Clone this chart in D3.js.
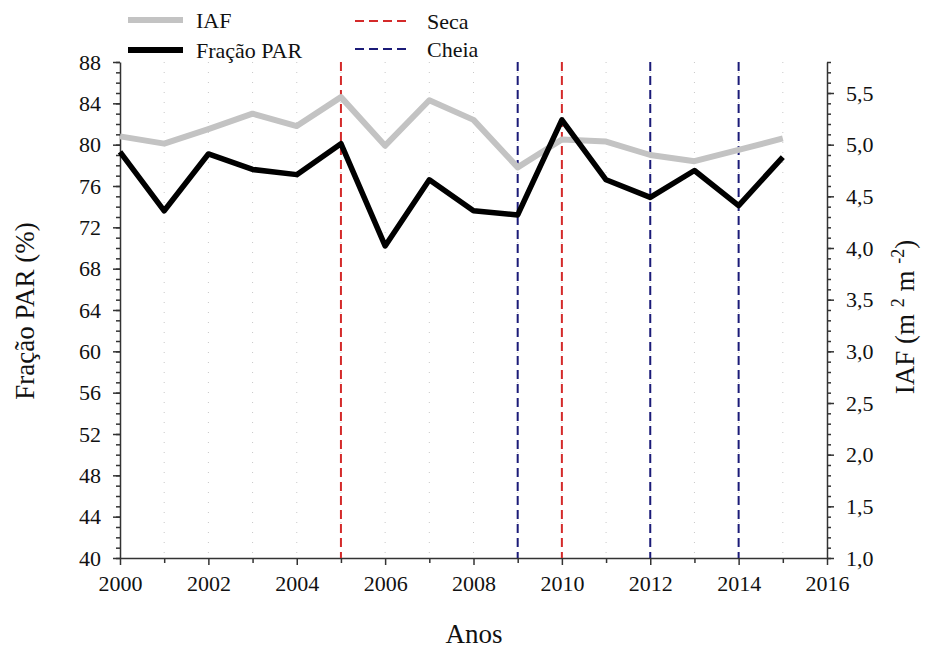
<!DOCTYPE html>
<html>
<head>
<meta charset="utf-8">
<script src="https://cdn.jsdelivr.net/npm/d3@7"></script>
<style>
body { margin: 0; background: #fff; }
svg text { font-family: "Liberation Serif", "Times New Roman", "DejaVu Serif", serif; fill: #111; }
.axis path, .axis line { stroke: #333; stroke-width: 1.5; }
</style>
</head>
<body>
<svg id="chart"></svg>
<script>
const width = 927;
const height = 648;

// dados
const anos = [2000,2001,2002,2003,2004,2005,2006,2007,2008,2009,2010,2011,2012,2013,2014,2015];
const fracaoPAR = [79.3,73.6,79.1,77.6,77.1,80.1,70.2,76.6,73.6,73.2,82.4,76.6,74.9,77.5,74.1,78.8];
const iaf = [5.08,5.01,5.15,5.30,5.18,5.46,4.99,5.43,5.24,4.78,5.05,5.03,4.90,4.84,4.95,5.06];
const anosSeca = [2005,2010];
const anosCheia = [2009,2012,2014];
const ticksPAR = [40,44,48,52,56,60,64,68,72,76,80,84,88];
const ticksIAF = [1.0,1.5,2.0,2.5,3.0,3.5,4.0,4.5,5.0,5.5];
const ticksAnos = [2000,2002,2004,2006,2008,2010,2012,2014,2016];

const mLeft = 120, mRight = 827, mTop = 62, mBottom = 558;

var xScale = d3.scaleLinear().domain([2000,2016]).range([mLeft,mRight]);
var yScale = d3.scaleLinear().domain([40,88]).range([mBottom,mTop]);
var y2Scale = d3.scaleLinear().domain([1.0,5.8]).range([mBottom,mTop]);

var svg = d3.select("#chart").attr("width",width).attr("height",height);

// grade pontilhada vertical
svg.append("g")
  .selectAll("line")
  .data(d3.range(2001,2016))
  .enter()
  .append("line")
  .attr("x1",d=>xScale(d)).attr("x2",d=>xScale(d))
  .attr("y1",mTop).attr("y2",mBottom)
  .attr("stroke","#c8c8c8")
  .attr("stroke-width",1)
  .attr("stroke-dasharray","1,9");

// minor ticks
var fmt = d3.format(".1f");
svg.append("g").attr("class","axis")
  .attr("transform",`translate(${mLeft},0)`)
  .call(d3.axisLeft(yScale).tickValues(d3.range(40,89,1)).tickSize(4).tickFormat(""))
  .call(g=>g.select(".domain").remove());
svg.append("g").attr("class","axis")
  .attr("transform",`translate(${mRight},0)`)
  .call(d3.axisRight(y2Scale).tickValues(d3.range(10,59,1).map(d=>d/10)).tickSize(4).tickFormat(""))
  .call(g=>g.select(".domain").remove());
svg.append("g").attr("class","axis")
  .attr("transform",`translate(0,${mBottom})`)
  .call(d3.axisBottom(xScale).tickValues(d3.range(2001,2016,2)).tickSize(5).tickFormat(""))
  .call(g=>g.select(".domain").remove());

// eixos principais
svg.append("g").attr("class","axis")
  .attr("transform",`translate(${mLeft},0)`)
  .call(d3.axisLeft(yScale).tickValues(ticksPAR).tickSize(7).tickSizeOuter(0).tickPadding(12));
svg.append("g").attr("class","axis")
  .attr("transform",`translate(${mRight},0)`)
  .call(d3.axisRight(y2Scale).tickValues(ticksIAF).tickSize(7).tickSizeOuter(0).tickPadding(12)
    .tickFormat(d=>fmt(d).replace(".",",")));
svg.append("g").attr("class","axis")
  .attr("transform",`translate(0,${mBottom})`)
  .call(d3.axisBottom(xScale).tickValues(ticksAnos).tickSize(7).tickSizeOuter(0).tickPadding(10)
    .tickFormat(d3.format("d")));
svg.selectAll(".axis").attr("font-family",null);
svg.selectAll(".axis text")
  .style("font-size","22px")
  .attr("fill","#111");

// linhas de eventos
svg.append("g")
  .selectAll("line")
  .data(anosSeca.map(d=>({ano:d,c:"#d42a2a"})).concat(anosCheia.map(d=>({ano:d,c:"#1b1b78"}))))
  .enter()
  .append("line")
  .attr("x1",d=>xScale(d.ano)).attr("x2",d=>xScale(d.ano))
  .attr("y1",mTop).attr("y2",mBottom)
  .attr("stroke",d=>d.c)
  .attr("stroke-width",2)
  .attr("stroke-dasharray","9,5");

// series
var lineIAF = d3.line().x((d,i)=>xScale(anos[i])).y(d=>y2Scale(d));
var linePAR = d3.line().x((d,i)=>xScale(anos[i])).y(d=>yScale(d));

svg.append("path")
  .attr("d",lineIAF(iaf))
  .attr("fill","none")
  .attr("stroke","#c3c3c3")
  .attr("stroke-width",6)
  .attr("stroke-linejoin","round");

svg.append("path")
  .attr("d",linePAR(fracaoPAR))
  .attr("fill","none")
  .attr("stroke","#000")
  .attr("stroke-width",5.5)
  .attr("stroke-linejoin","round");

// titulos
svg.append("text")
  .attr("x",474).attr("y",643)
  .attr("text-anchor","middle")
  .style("font-size","27px")
  .text("Anos");

svg.append("text")
  .attr("transform","translate(34,311) rotate(-90)")
  .attr("text-anchor","middle")
  .style("font-size","27px")
  .text("Fração PAR (%)");

var t2 = svg.append("text")
  .attr("transform","translate(914,317) rotate(-90)")
  .attr("text-anchor","middle")
  .style("font-size","27px");
t2.append("tspan").text("IAF (m ");
t2.append("tspan").attr("dy",-10).style("font-size","18px").text("2");
t2.append("tspan").attr("dy",10).text(" m ");
t2.append("tspan").attr("dy",-10).style("font-size","18px").text("-2");
t2.append("tspan").attr("dy",10).text(")");

// legenda
var legenda = [
  {nome:"IAF", cor:"#c3c3c3", w:6, dash:null, x:128, y:20},
  {nome:"Fração PAR", cor:"#000", w:6, dash:null, x:128, y:50},
  {nome:"Seca", cor:"#d42a2a", w:2, dash:"9,5", x:355, y:21},
  {nome:"Cheia", cor:"#1b1b78", w:2, dash:"9,5", x:355, y:49}
];
var lg = svg.append("g")
  .selectAll("g")
  .data(legenda)
  .enter()
  .append("g");
lg.append("line")
  .attr("x1",d=>d.x).attr("x2",d=>d.x+55)
  .attr("y1",d=>d.y).attr("y2",d=>d.y)
  .attr("stroke",d=>d.cor)
  .attr("stroke-width",d=>d.w)
  .attr("stroke-dasharray",d=>d.dash);
lg.append("text")
  .attr("x",d=>d.x+(d.dash?72:68))
  .attr("y",d=>d.y+8)
  .style("font-size","22px")
  .text(d=>d.nome);
</script>
</body>
</html>
